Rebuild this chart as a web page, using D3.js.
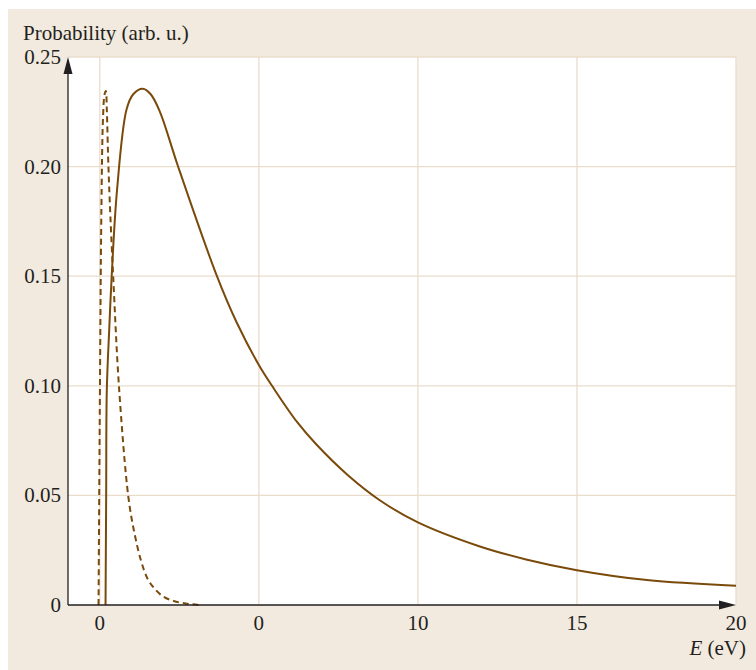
<!DOCTYPE html>
<html>
<head>
<meta charset="utf-8">
<script src="https://cdn.jsdelivr.net/npm/d3@7"></script>
<style>
  body { margin: 0; background: #fff; }
  svg { display: block; }
  text { font-family: "Liberation Serif", "DejaVu Serif", serif; fill: #231f20; }
</style>
</head>
<body>
<svg id="chart" width="756" height="670"></svg>
<script>
// energy distributions, E in eV
const solidE = [0.18, 0.2, 0.22, 0.3, 0.37, 0.54, 0.84, 1.05, 1.35, 1.6, 1.89, 2.45, 3.67, 4.3, 5, 5.45, 6.2, 6.81, 7.8, 8.8, 10, 11.95, 13.4, 15, 17.2, 20];
const solidP = [0, 0.05, 0.098, 0.127, 0.149, 0.189, 0.226, 0.233, 0.2355, 0.233, 0.225, 0.2005, 0.1505, 0.129, 0.1095, 0.0992, 0.0835, 0.0732, 0.0592, 0.0478, 0.0377, 0.0267, 0.0208, 0.0159, 0.0114, 0.0088];

const dashedE = [-0.04, 0.0, 0.05, 0.1, 0.15, 0.19, 0.22, 0.26, 0.31, 0.42, 0.61, 0.9, 1.1, 1.3, 1.5, 1.7, 2.0, 2.4, 2.8, 3.15];
const dashedP = [0, 0.09, 0.18, 0.222, 0.233, 0.2345, 0.226, 0.205, 0.185, 0.15, 0.098, 0.049, 0.032, 0.02, 0.012, 0.0078, 0.0038, 0.0015, 0.0005, 0];

const xTicks = [0, 5, 10, 15, 20];
const xTickLabels = ['0', '0', '10', '15', '20'];
const yTicks = [0, 0.05, 0.1, 0.15, 0.2, 0.25];
const yTickLabels = ['0', '0.05', '0.10', '0.15', '0.20', '0.25'];

const svg = d3.select('#chart');

const plotL = 68, plotR = 736, plotT = 57, plotB = 605;
const fontSize = 21;

const x = d3.scaleLinear().domain([-1, 20]).range([plotL, plotR]);
const y = d3.scaleLinear().domain([0, 0.25]).range([plotB, plotT]);

// beige page
svg.append('rect')
    .attr('x', 8).attr('y', 9)
    .attr('width', 748).attr('height', 661)
    .attr('fill', '#f2eadf');

// white plot area
svg.append('rect')
    .attr('x', plotL).attr('y', plotT)
    .attr('width', plotR - plotL).attr('height', plotB - plotT)
    .attr('fill', '#fff');

// grid
const grid = svg.append('g').attr('stroke', '#eadccb').attr('stroke-width', 1.3);
grid.selectAll('.vg')
    .data(xTicks)
    .enter()
    .append('line')
    .attr('x1', d => x(d)).attr('x2', d => x(d))
    .attr('y1', plotT).attr('y2', plotB);
grid.selectAll('.hg')
    .data(yTicks.slice(1))
    .enter()
    .append('line')
    .attr('x1', plotL).attr('x2', plotR)
    .attr('y1', d => y(d)).attr('y2', d => y(d));

// curves
const line = d3.line()
    .x(d => x(d[0]))
    .y(d => y(d[1]))
    .curve(d3.curveCatmullRom.alpha(0.5));

svg.append('path')
    .datum(dashedE.map((e, i) => [e, dashedP[i]]))
    .attr('d', line)
    .attr('fill', 'none')
    .attr('stroke', '#7a4a0b')
    .attr('stroke-width', 2)
    .attr('stroke-dasharray', '6,4');

svg.append('path')
    .datum(solidE.map((e, i) => [e, solidP[i]]))
    .attr('d', line)
    .attr('fill', 'none')
    .attr('stroke', '#7a4a0b')
    .attr('stroke-width', 2);

// axes with arrow heads
svg.append('line')
    .attr('x1', plotL).attr('x2', plotR - 12)
    .attr('y1', plotB).attr('y2', plotB)
    .attr('stroke', '#231f20').attr('stroke-width', 1.3);
svg.append('path')
    .attr('d', `M${plotR},${plotB} L${plotR - 17},${plotB - 4.5} L${plotR - 17},${plotB + 4.5} Z`)
    .attr('fill', '#231f20');

svg.append('line')
    .attr('x1', plotL).attr('x2', plotL)
    .attr('y1', plotB).attr('y2', plotT + 12)
    .attr('stroke', '#231f20').attr('stroke-width', 1.3);
svg.append('path')
    .attr('d', `M${plotL},${plotT} L${plotL - 4.5},${plotT + 17} L${plotL + 4.5},${plotT + 17} Z`)
    .attr('fill', '#231f20');

// tick labels
svg.selectAll('.xl')
    .data(xTicks)
    .enter()
    .append('text')
    .attr('x', d => x(d))
    .attr('y', 630)
    .attr('text-anchor', 'middle')
    .attr('font-size', fontSize)
    .text((d, i) => xTickLabels[i]);

svg.selectAll('.yl')
    .data(yTicks)
    .enter()
    .append('text')
    .attr('x', 61)
    .attr('y', d => y(d) + 7)
    .attr('text-anchor', 'end')
    .attr('font-size', fontSize)
    .text((d, i) => yTickLabels[i]);

// axis titles
svg.append('text')
    .attr('x', 23).attr('y', 39.5)
    .attr('font-size', fontSize)
    .text('Probability (arb. u.)');

const xt = svg.append('text')
    .attr('x', 746).attr('y', 655)
    .attr('text-anchor', 'end')
    .attr('font-size', fontSize);
xt.append('tspan').attr('font-style', 'italic').text('E');
xt.append('tspan').text(' (eV)');
</script>
</body>
</html>
